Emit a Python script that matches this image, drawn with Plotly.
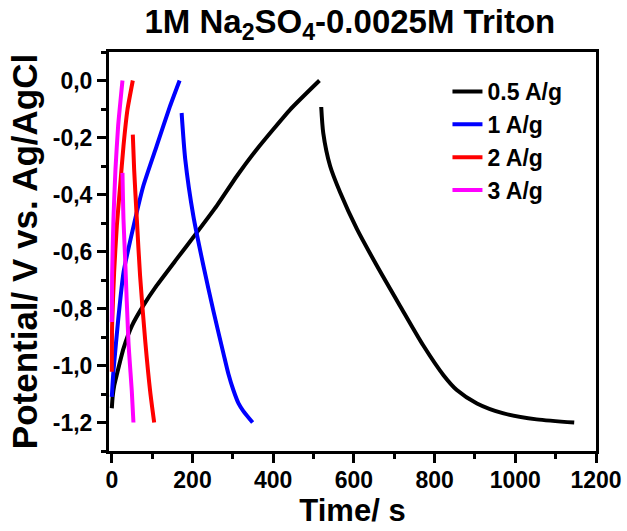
import plotly.graph_objects as go

# ---- data ----
series_names = ["0.5 A/g", "1 A/g", "2 A/g", "3 A/g"]
series_colors = ["#000000", "#0000FF", "#FF0000", "#FF00FF"]

black_charge_t = [0, 2, 6, 12, 29, 50, 78, 111, 161, 211, 260, 310, 359, 442, 514.6]
black_charge_v = [-1.15, -1.11, -1.07, -1.034, -0.94, -0.86, -0.79, -0.72, -0.626, -0.533, -0.44, -0.335, -0.242, -0.102, 0.0]
black_dis_t = [519, 524, 541, 566, 607, 657, 714, 772, 822, 855, 905, 971, 1053, 1146]
black_dis_v = [-0.093, -0.184, -0.30, -0.393, -0.52, -0.65, -0.79, -0.93, -1.034, -1.086, -1.133, -1.168, -1.189, -1.2]

blue_charge_t = [0, 2, 4, 16, 29, 54, 78, 111, 144, 168]
blue_charge_v = [-1.11, -1.06, -1.02, -0.836, -0.673, -0.51, -0.37, -0.23, -0.091, 0.0]
blue_dis_t = [173, 182, 202, 227, 252, 277, 289, 301, 314, 326, 349]
blue_dis_v = [-0.114, -0.277, -0.475, -0.65, -0.81, -0.96, -1.03, -1.085, -1.133, -1.16, -1.2]

red_charge_t = [0, 0.7, 5.7, 12.4, 20.6, 28.9, 38.8, 52]
red_charge_v = [-1.022, -0.859, -0.673, -0.51, -0.37, -0.23, -0.102, 0.0]
red_dis_t = [52, 55.3, 62, 70, 83, 95, 105]
red_dis_v = [-0.19, -0.312, -0.487, -0.685, -0.917, -1.09, -1.2]

magenta_charge_t = [0, 0.7, 4, 9, 15.6, 26.4]
magenta_charge_v = [-0.847, -0.685, -0.487, -0.312, -0.16, 0.0]
magenta_dis_t = [26.4, 28.9, 33, 41.2, 49.5, 53.6]
magenta_dis_v = [-0.324, -0.487, -0.626, -0.917, -1.09, -1.2]

x_tick_vals = [0, 200, 400, 600, 800, 1000, 1200]
x_tick_text = ["0", "200", "400", "600", "800", "1000", "1200"]
y_tick_vals = [0.0, -0.2, -0.4, -0.6, -0.8, -1.0, -1.2]
y_tick_text = ["0,0", "-0,2", "-0,4", "-0,6", "-0,8", "-1,0", "-1,2"]

title_text = "1M Na<sub>2</sub>SO<sub>4</sub>-0.0025M Triton"
x_title = "Time/ s"
y_title = "Potential/ V vs. Ag/AgCl"

# ---- figure ----
FONT = "Liberation Sans, Arial, sans-serif"
segments = [
    (black_charge_t, black_charge_v, black_dis_t, black_dis_v),
    (blue_charge_t, blue_charge_v, blue_dis_t, blue_dis_v),
    (red_charge_t, red_charge_v, red_dis_t, red_dis_v),
    (magenta_charge_t, magenta_charge_v, magenta_dis_t, magenta_dis_v),
]

fig = go.Figure()
for name, color, (ct, cv, dt, dv) in zip(series_names, series_colors, segments):
    fig.add_trace(go.Scatter(x=ct, y=cv, mode="lines", name=name, legendgroup=name,
                             line=dict(color=color, width=4, shape="spline", smoothing=0.5)))
    fig.add_trace(go.Scatter(x=dt, y=dv, mode="lines", name=name, legendgroup=name,
                             showlegend=False,
                             line=dict(color=color, width=4, shape="spline", smoothing=0.7)))

axis_common = dict(
    showline=True, linecolor="black", linewidth=3, mirror=True,
    ticks="outside", ticklen=9, tickwidth=2.5, tickcolor="black",
    showgrid=False, zeroline=False, automargin=False,
    tickfont=dict(family=FONT, size=23, color="black", weight="bold"),
)

fig.update_layout(
    width=627, height=531,
    margin=dict(l=109, r=31, t=52, b=80),
    paper_bgcolor="white", plot_bgcolor="white",
    title=dict(text=title_text, x=0.558, xanchor="center", y=1 - 10 / 531, yanchor="top",
               font=dict(family=FONT, size=33, color="black", weight="bold")),
    xaxis=dict(range=[-7, 1200], tickvals=x_tick_vals, ticktext=x_tick_text,
               ticklabelstandoff=-3,
               minor=dict(dtick=100, tick0=0, ticks="outside", ticklen=5, tickwidth=2.5, tickcolor="black"),
               title=dict(text=x_title, standoff=6,
                          font=dict(family=FONT, size=31, color="black", weight="bold")),
               **axis_common),
    yaxis=dict(range=[-1.3, 0.1], tickvals=y_tick_vals, ticktext=y_tick_text,
               minor=dict(dtick=0.1, tick0=0, ticks="outside", ticklen=5, tickwidth=2.5, tickcolor="black"),
               title=dict(text=y_title, standoff=5,
                          font=dict(family=FONT, size=35, color="black", weight="bold")),
               **axis_common),
    legend=dict(x=0.695, y=0.955, xanchor="left", yanchor="top", bgcolor="rgba(0,0,0,0)",
                font=dict(family=FONT, size=23, color="black", weight="bold"),
                tracegroupgap=0),
    showlegend=True,
)

fig.write_html("out.html", config={"displayModeBar": False},
               post_script="document.body.style.margin='0';")
